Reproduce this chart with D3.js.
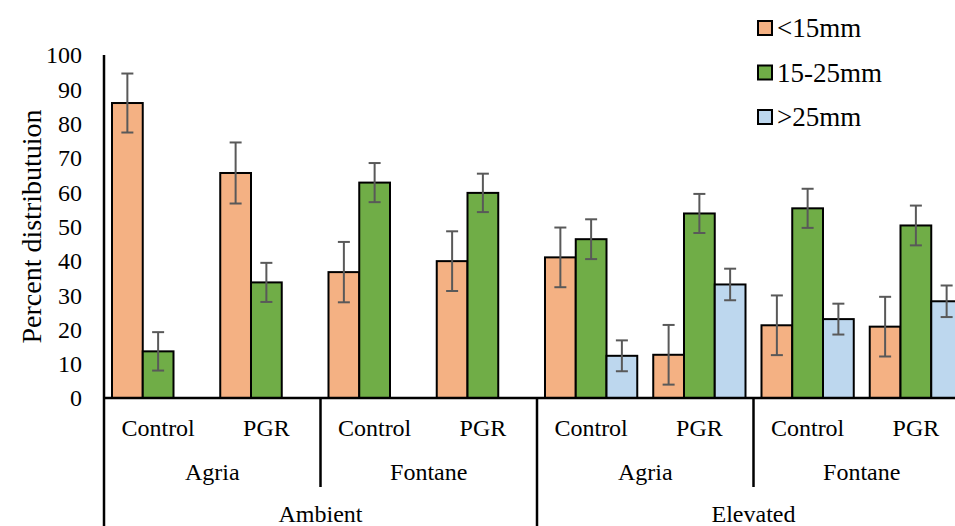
<!DOCTYPE html>
<html>
<head>
<meta charset="utf-8">
<script src="https://cdn.jsdelivr.net/npm/d3@7"></script>
<style>
  body { margin: 0; background: #fff; }
  svg { display: block; font-family: "Liberation Serif", "Times New Roman", serif; }
</style>
</head>
<body>
<div id="chart"></div>
<script>
// bar groups, left to right
const treatments = ["Control", "PGR", "Control", "PGR", "Control", "PGR", "Control", "PGR"];
const cultivars = ["Agria", "Fontane", "Agria", "Fontane"];
const co2Levels = ["Ambient", "Elevated"];

const seriesNames = ["<15mm", "15-25mm", ">25mm"];
const seriesColors = ["#F4B183", "#70AD47", "#BDD7EE"];

// percent distribution per size class (null = no bar)
const small = [86.0, 65.6, 36.7, 39.9, 41.0, 12.6, 21.2, 20.8];
const smallErr = [8.6, 8.9, 8.8, 8.7, 8.7, 8.7, 8.7, 8.7];
const medium = [13.6, 33.7, 62.8, 59.8, 46.3, 53.8, 55.3, 50.3];
const mediumErr = [5.6, 5.7, 5.7, 5.6, 5.8, 5.7, 5.7, 5.8];
const large = [null, null, null, null, 12.3, 33.1, 23.0, 28.2];
const largeErr = [null, null, null, null, 4.5, 4.6, 4.5, 4.6];

const yTicks = [0, 10, 20, 30, 40, 50, 60, 70, 80, 90, 100];

let config = {
    width: 955,
    height: 526,
    left: 104,
    right: 970,   // the plot runs past the window edge, as in the original
    top: 55,
    bottom: 398,
    fontSize: 24
};

const series = [
    {name: seriesNames[0], values: small, errs: smallErr, color: seriesColors[0]},
    {name: seriesNames[1], values: medium, errs: mediumErr, color: seriesColors[1]},
    {name: seriesNames[2], values: large, errs: largeErr, color: seriesColors[2]}
];

let svg = d3.select("#chart")
    .append("svg")
    .attr("width", config.width)
    .attr("height", config.height);

let x = d3.scaleBand()
    .domain(d3.range(treatments.length))
    .range([config.left, config.right])
    .padding(0);

let xInner = d3.scaleBand()
    .domain(d3.range(series.length))
    .range([0, x.bandwidth()])
    .paddingInner(0)
    .paddingOuter(0.26);

let y = d3.scaleLinear()
    .domain([0, 100])
    .range([config.bottom, config.top]);

// y tick labels (no tick marks)
svg.append("g")
    .selectAll("text")
    .data(yTicks)
    .enter().append("text")
    .attr("x", 82)
    .attr("y", (d) => y(d))
    .attr("dy", "0.35em")
    .attr("text-anchor", "end")
    .attr("font-size", config.fontSize)
    .text((d) => d);

// y title
svg.append("text")
    .attr("transform", `translate(41,${(config.top + config.bottom) / 2 }) rotate(-90)`)
    .attr("text-anchor", "middle")
    .attr("font-size", 28)
    .text("Percent distributuion");

// bars
let barG = svg.append("g");
series.forEach((s, si) => {
    let pts = s.values
        .map((v, i) => ({v: v, e: s.errs[i], i: i}))
        .filter((d) => d.v !== null);

    barG.selectAll(null)
        .data(pts)
        .enter().append("rect")
        .attr("x", (d) => x(d.i) + xInner(si))
        .attr("y", (d) => y(d.v))
        .attr("width", xInner.bandwidth())
        .attr("height", (d) => y(0) - y(d.v))
        .attr("fill", s.color)
        .attr("stroke", "#000")
        .attr("stroke-width", 2);

    // error bars
    let eg = barG.selectAll(null)
        .data(pts)
        .enter().append("g")
        .attr("stroke", "#595959")
        .attr("stroke-width", 2);
    let cx = (d) => x(d.i) + xInner(si) + xInner.bandwidth() / 2;
    eg.append("line")
        .attr("x1", cx).attr("x2", cx)
        .attr("y1", (d) => y(d.v + d.e))
        .attr("y2", (d) => y(d.v - d.e));
    eg.append("line")
        .attr("x1", (d) => cx(d) - 6).attr("x2", (d) => cx(d) + 6)
        .attr("y1", (d) => y(d.v + d.e)).attr("y2", (d) => y(d.v + d.e));
    eg.append("line")
        .attr("x1", (d) => cx(d) - 6).attr("x2", (d) => cx(d) + 6)
        .attr("y1", (d) => y(d.v - d.e)).attr("y2", (d) => y(d.v - d.e));
});

// axes lines
svg.append("line")
    .attr("x1", config.left).attr("x2", config.left)
    .attr("y1", config.top).attr("y2", config.height)
    .attr("stroke", "#000").attr("stroke-width", 2.5);
svg.append("line")
    .attr("x1", config.left).attr("x2", config.right)
    .attr("y1", y(0)).attr("y2", y(0))
    .attr("stroke", "#000").attr("stroke-width", 2.5);

// multi-level category axis
let catG = svg.append("g").attr("font-size", config.fontSize).attr("text-anchor", "middle");

catG.selectAll(null)
    .data(treatments)
    .enter().append("text")
    .attr("x", (d, i) => x(i) + x.bandwidth() / 2)
    .attr("y", 436)
    .text((d) => d);

catG.selectAll(null)
    .data(cultivars)
    .enter().append("text")
    .attr("x", (d, i) => x(i * 2) + x.bandwidth())
    .attr("y", 480)
    .text((d) => d);

catG.selectAll(null)
    .data(co2Levels)
    .enter().append("text")
    .attr("x", (d, i) => x(i * 4) + x.bandwidth() * 2)
    .attr("y", 522)
    .text((d) => d);

// separators: short ones between cultivars, long ones between CO2 levels
let seps = d3.range(1, treatments.length / 2 + 1).map((k) => ({pos: k * 2, long: k % 2 === 0}));
svg.append("g")
    .selectAll("line")
    .data(seps)
    .enter().append("line")
    .attr("x1", (d) => d.pos < treatments.length ? x(d.pos) : config.right)
    .attr("x2", (d) => d.pos < treatments.length ? x(d.pos) : config.right)
    .attr("y1", y(0))
    .attr("y2", (d) => d.long ? config.height : 487)
    .attr("stroke", "#000")
    .attr("stroke-width", 2.5);

// legend
let legend = svg.append("g")
    .selectAll("g")
    .data(series)
    .enter().append("g")
    .attr("transform", (d, i) => `translate(758,${28 + i * 44.5})`);
legend.append("rect")
    .attr("x", 0).attr("y", -7)
    .attr("width", 14).attr("height", 14)
    .attr("fill", (d) => d.color)
    .attr("stroke", "#000")
    .attr("stroke-width", 2);
legend.append("text")
    .attr("x", 19)
    .attr("dy", "0.35em")
    .attr("font-size", 27)
    .text((d) => d.name);
</script>
</body>
</html>
